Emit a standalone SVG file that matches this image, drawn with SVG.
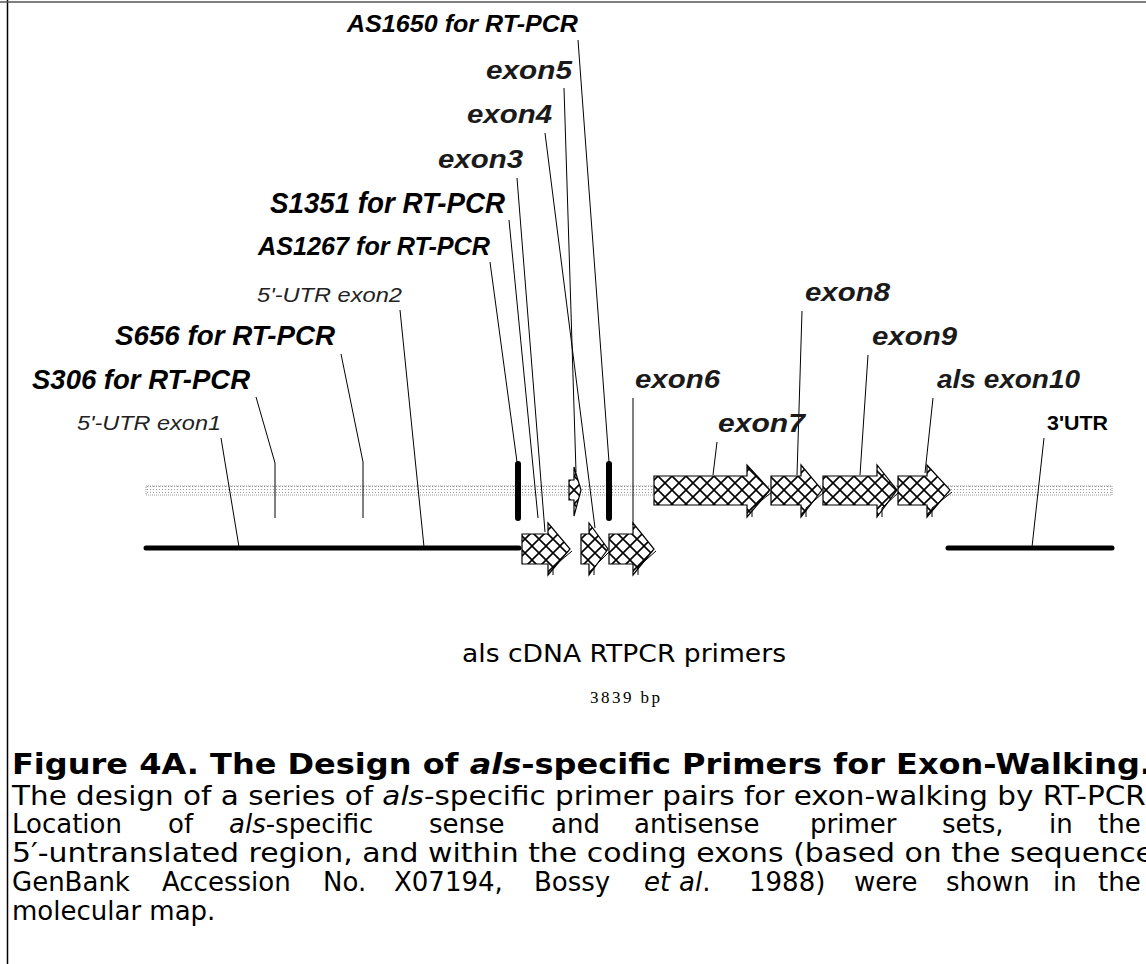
<svg xmlns="http://www.w3.org/2000/svg" width="1146" height="964" viewBox="0 0 1146 964">
<defs>
<pattern id="hatch" patternUnits="userSpaceOnUse" width="14" height="14">
<rect width="14" height="14" fill="#fff"/>
<path d="M0,0 L14,14 M14,0 L0,14" stroke="#000" stroke-width="1.6"/>
</pattern>
<pattern id="dots" patternUnits="userSpaceOnUse" width="3" height="3">
<rect width="3" height="3" fill="#fff"/>
<rect width="1" height="1" fill="#999"/>
</pattern>
</defs>
<style>
.lbl{font-family:"Liberation Sans",Arial,sans-serif;font-style:italic;fill:#000}
.pb{font-weight:bold}
.ex{font-weight:bold;fill:#1a1a1a}
.ut{fill:#222}
.lead{fill:none;stroke:#000;stroke-width:1}
.arr{fill:url(#hatch);stroke:#000;stroke-width:1.2}
.shadow{fill:none;stroke:#000;stroke-width:1}
.cap{font-family:"DejaVu Sans",Verdana,sans-serif;fill:#000}
</style>
<rect width="1146" height="964" fill="#fff"/>
<!-- frame -->
<line x1="7.5" y1="0" x2="7.5" y2="964" stroke="#000" stroke-width="1.5"/>
<line x1="0" y1="2" x2="1146" y2="2" stroke="#555" stroke-width="1.5"/>

<!-- backbone -->
<g id="backbone">
<rect x="146" y="486" width="966" height="9" fill="url(#dots)" stroke="#999" stroke-width="1" stroke-dasharray="1,1"/>
<line x1="146" y1="548" x2="519" y2="548" stroke="#000" stroke-width="5" stroke-linecap="round"/>
<line x1="948" y1="548" x2="1112" y2="548" stroke="#000" stroke-width="5" stroke-linecap="round"/>
<line x1="518" y1="464" x2="518" y2="518" stroke="#000" stroke-width="6" stroke-linecap="round"/>
<line x1="609" y1="464" x2="609" y2="518" stroke="#000" stroke-width="6" stroke-linecap="round"/>
</g>

<!-- connectors -->
<g id="connectors">
<path class="lead" d="M221,438 L239,547"/>
<path class="lead" d="M256,397 L275,463 L275,518"/>
<path class="lead" d="M341,354 L363,462 L363,518"/>
<path class="lead" d="M400,310 L424,547"/>
<path class="lead" d="M490,262 L517,462"/>
<path class="lead" d="M509,220 L538,518"/>
<path class="lead" d="M517,178 L545,532"/>
<path class="lead" d="M545,133 L595,528"/>
<path class="lead" d="M564,88 L576,472"/>
<path class="lead" d="M578,40 L609,462"/>
<path class="lead" d="M633,398 L633,525"/>
<path class="lead" d="M717,442 L713,475"/>
<path class="lead" d="M802,311 L797,475"/>
<path class="lead" d="M868,355 L860,475"/>
<path class="lead" d="M933,398 L925,473"/>
<path class="lead" d="M1044,438 L1032,547"/>
</g>

<!-- exon arrows -->
<g id="exon3-arrow">
<polygon class="arr" points="522,534 548,534 548,523 570,549 548,575 548,564 522,564"/>
<polyline class="shadow" points="553,575 553,567 572,551"/>
</g>
<g id="exon4-arrow">
<polygon class="arr" points="581,534 589,534 589,523 608,549 589,575 589,564 581,564"/>
<polyline class="shadow" points="594,575 594,567 610,551"/>
</g>
<g id="exon5-arrow">
<polygon class="arr" points="569,480 574,480 574,467 581,490 574,516 574,500 569,500"/>
</g>
<g id="exon6-arrow">
<polygon class="arr" points="609,534 633,534 633,523 654,549 633,575 633,564 609,564"/>
<polyline class="shadow" points="638,575 638,567 656,551"/>
</g>
<g id="exon7-arrow">
<polygon class="arr" points="654,476 747,476 747,465 770,490 747,517 747,505 654,505"/>
<polyline class="shadow" points="752,517 752,508 772,492"/>
</g>
<g id="exon8-arrow">
<polygon class="arr" points="771,476 801,476 801,465 822,490 801,517 801,505 771,505"/>
<polyline class="shadow" points="806,517 806,508 824,492"/>
</g>
<g id="exon9-arrow">
<polygon class="arr" points="823,476 877,476 877,465 897,490 877,517 877,505 823,505"/>
<polyline class="shadow" points="882,517 882,508 899,492"/>
</g>
<g id="exon10-arrow">
<polygon class="arr" points="898,476 927,476 927,465 950,490 927,517 927,505 898,505"/>
<polyline class="shadow" points="932,517 932,508 952,492"/>
</g>

<!-- labels -->
<g id="label-AS1650"><text class="lbl pb" x="347" y="32" font-size="24" textLength="231" lengthAdjust="spacingAndGlyphs">AS1650 for RT-PCR</text></g>
<g id="label-exon5"><text class="lbl ex" x="486" y="79" font-size="26" textLength="86" lengthAdjust="spacingAndGlyphs">exon5</text></g>
<g id="label-exon4"><text class="lbl ex" x="467" y="123" font-size="26" textLength="85" lengthAdjust="spacingAndGlyphs">exon4</text></g>
<g id="label-exon3"><text class="lbl ex" x="438" y="168" font-size="26" textLength="85" lengthAdjust="spacingAndGlyphs">exon3</text></g>
<g id="label-S1351"><text class="lbl pb" x="270" y="213" font-size="29" textLength="235" lengthAdjust="spacingAndGlyphs">S1351 for RT-PCR</text></g>
<g id="label-AS1267"><text class="lbl pb" x="258" y="255" font-size="25" textLength="232" lengthAdjust="spacingAndGlyphs">AS1267 for RT-PCR</text></g>
<g id="label-utr2"><text class="lbl ut" x="257" y="302" font-size="20" textLength="145" lengthAdjust="spacingAndGlyphs">5'-UTR exon2</text></g>
<g id="label-S656"><text class="lbl pb" x="115" y="345" font-size="28" textLength="220" lengthAdjust="spacingAndGlyphs">S656 for RT-PCR</text></g>
<g id="label-S306"><text class="lbl pb" x="32" y="389" font-size="28" textLength="218" lengthAdjust="spacingAndGlyphs">S306 for RT-PCR</text></g>
<g id="label-utr1"><text class="lbl ut" x="77" y="430" font-size="20" textLength="144" lengthAdjust="spacingAndGlyphs">5'-UTR exon1</text></g>
<g id="label-exon6"><text class="lbl ex" x="635" y="388" font-size="26" textLength="85" lengthAdjust="spacingAndGlyphs">exon6</text></g>
<g id="label-exon7"><text class="lbl ex" x="718" y="432" font-size="26" textLength="87" lengthAdjust="spacingAndGlyphs">exon7</text></g>
<g id="label-exon8"><text class="lbl ex" x="805" y="301" font-size="26" textLength="85" lengthAdjust="spacingAndGlyphs">exon8</text></g>
<g id="label-exon9"><text class="lbl ex" x="872" y="345" font-size="26" textLength="85" lengthAdjust="spacingAndGlyphs">exon9</text></g>
<g id="label-exon10"><text class="lbl ex" x="937" y="388" font-size="26" textLength="143" lengthAdjust="spacingAndGlyphs">als exon10</text></g>
<g id="label-3utr"><text x="1047" y="430" font-family="Liberation Sans, Arial, sans-serif" font-weight="bold" font-size="20" textLength="61" lengthAdjust="spacingAndGlyphs">3'UTR</text></g>

<!-- title of map -->
<g id="map-title">
<text class="cap" x="462" y="662" font-size="25" textLength="324" lengthAdjust="spacingAndGlyphs">als cDNA RTPCR primers</text>
<text x="590" y="703" font-family="Liberation Serif, Times New Roman, serif" font-size="17" textLength="70" lengthAdjust="spacing">3839 bp</text>
</g>

<!-- caption -->
<g id="caption">
<text class="cap" x="12" y="774" font-size="29" font-weight="bold" textLength="1140" lengthAdjust="spacingAndGlyphs">Figure 4A. The Design of <tspan font-style="italic">als</tspan>-specific Primers for Exon-Walking.</text>
<text class="cap" x="12" y="805" font-size="26" textLength="1142" lengthAdjust="spacingAndGlyphs">The design of a series of <tspan font-style="italic">als</tspan>-specific primer pairs for exon-walking by RT-PCR.</text>
<text class="cap" y="833" font-size="26"><tspan x="12">Location</tspan><tspan x="168">of</tspan><tspan x="229" font-style="italic">als</tspan><tspan>-specific</tspan><tspan x="429">sense</tspan><tspan x="551">and</tspan><tspan x="634">antisense</tspan><tspan x="810">primer</tspan><tspan x="942">sets,</tspan><tspan x="1049">in</tspan><tspan x="1098">the</tspan></text>
<text class="cap" x="12" y="862" font-size="26" textLength="1142" lengthAdjust="spacingAndGlyphs">5′-untranslated region, and within the coding exons (based on the sequence</text>
<text class="cap" y="891" font-size="26"><tspan x="12">GenBank</tspan><tspan x="162">Accession</tspan><tspan x="323">No.</tspan><tspan x="394">X07194,</tspan><tspan x="534">Bossy</tspan><tspan x="644" font-style="italic">et</tspan><tspan x="679" font-style="italic">al</tspan><tspan>.</tspan><tspan x="749">1988)</tspan><tspan x="854">were</tspan><tspan x="946">shown</tspan><tspan x="1053">in</tspan><tspan x="1098">the</tspan></text>
<text class="cap" x="12" y="920" font-size="26">molecular map.</text>
</g>
</svg>
